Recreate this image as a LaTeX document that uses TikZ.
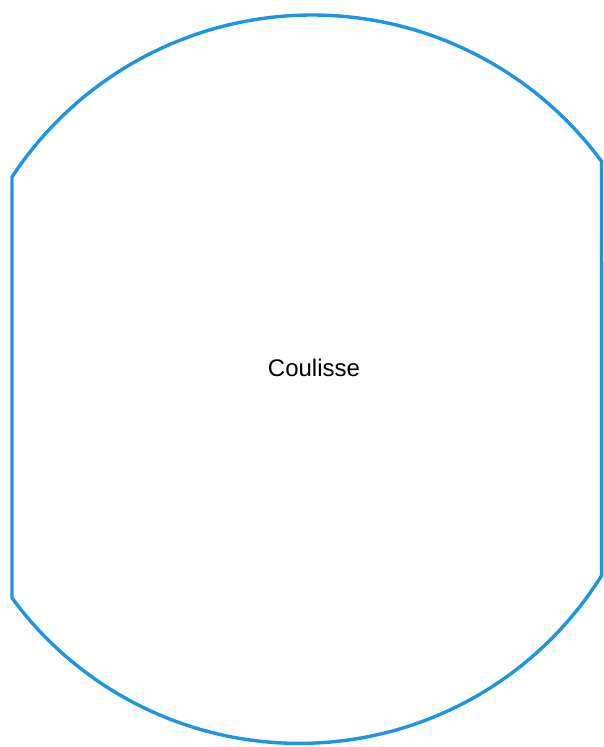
\documentclass[tikz,border=0pt]{standalone}
\usepackage{fontspec}
\setmainfont{Liberation Sans}
\definecolor{rim}{RGB}{30,148,228}
\begin{document}
\begin{tikzpicture}[x=1pt,y=-1pt,
  outline/.style={draw=rim,line width=3.4pt,line join=round},
  lbl/.style={font=\fontsize{24}{28}\selectfont,inner sep=0pt}]
\useasboundingbox (0,0) rectangle (604,747);
\coordinate (tl) at (12,177);
\coordinate (bl) at (12,598);
\coordinate (br) at (601.5,575);
\coordinate (tr) at (601.5,161.6);
\draw[outline] (tl) -- (bl)
  -- plot[domain=-143.7:-31.9,samples=120,smooth] ({299.2+356.3*cos(\x)},{387.1-356.3*sin(\x)})
  -- (tr)
  -- plot[domain=36.3:146.7,samples=120,smooth] ({312.2+359.2*cos(\x)},{374.2-359.2*sin(\x)})
  -- cycle;
\node[lbl] (t) at (314,368) {Coulisse};
\end{tikzpicture}
\end{document}
